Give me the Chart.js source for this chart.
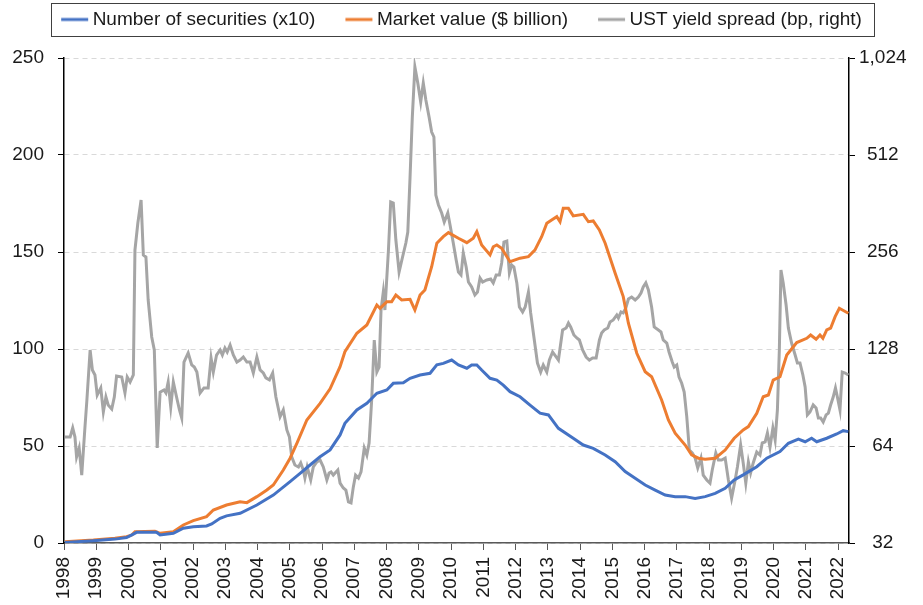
<!DOCTYPE html>
<html>
<head>
<meta charset="utf-8">
<script src="https://cdn.jsdelivr.net/npm/chart.js@4/dist/chart.umd.min.js"></script>
<style>
html,body{margin:0;padding:0;background:#ffffff;}
#wrap{width:923px;height:605px;position:relative;}
</style>
</head>
<body>
<div id="wrap"><canvas id="c" width="923" height="605"></canvas></div>
<script>
// ---------- DATA ----------
const seriesNames = ["Number of securities (x10)", "Market value ($ billion)", "UST yield spread (bp, right)"];
const seriesColors = ["#4472C4", "#ED7D31", "#A5A5A5"];
const yearTicks = [1998,1999,2000,2001,2002,2003,2004,2005,2006,2007,2008,2009,2010,2011,2012,2013,2014,2015,2016,2017,2018,2019,2020,2021,2022];
const leftTicks = [0,50,100,150,200,250];
const rightTicks = [32,64,128,256,512,1024];

const secDates = [1998.03,1998.91,1999.58,1999.94,2000.15,2000.25,2000.87,2000.98,2001.39,2001.70,2002.01,2002.42,2002.58,2002.84,2003.04,2003.46,2003.98,2004.49,2005.01,2005.32,2005.63,2005.94,2006.25,2006.56,2006.71,2007.08,2007.39,2007.70,2008.01,2008.21,2008.52,2008.73,2009.04,2009.35,2009.56,2009.76,2010.02,2010.23,2010.49,2010.64,2010.80,2010.95,2011.21,2011.42,2011.62,2011.83,2012.14,2012.45,2012.76,2013.02,2013.33,2013.79,2014.10,2014.41,2014.78,2015.09,2015.40,2015.71,2016.02,2016.33,2016.64,2016.95,2017.26,2017.57,2017.88,2018.19,2018.50,2018.78,2019.06,2019.48,2019.79,2020.20,2020.46,2020.77,2020.98,2021.18,2021.34,2021.65,2021.96,2022.16,2022.32];
const secValues = [0.3,1.2,2.0,2.8,4.6,5.5,5.5,4.1,5.0,7.6,8.4,8.8,9.8,12.7,14.0,15.3,19.6,24.7,31.6,35.9,40.2,44.5,48.0,55.7,61.7,68.6,72.0,77.2,78.9,82.3,82.6,84.9,86.6,87.5,91.8,92.6,94.3,91.8,90.1,91.8,91.8,89.2,84.9,84.0,81.4,78.0,75.4,71.1,66.9,66.0,59.1,54.0,50.5,48.8,45.4,41.9,36.8,33.4,29.9,27.3,24.7,23.9,23.9,23.0,23.9,25.6,28.2,32.5,35.1,39.3,43.7,47.1,51.4,53.5,52.2,54.0,52.2,54.0,56.2,57.9,57.4];

const mvDates = [1998.03,1998.91,1999.58,1999.94,2000.10,2000.20,2000.82,2000.98,2001.39,2001.70,2002.01,2002.42,2002.63,2003.04,2003.46,2003.67,2003.98,2004.29,2004.49,2004.80,2005.01,2005.22,2005.53,2005.94,2006.25,2006.56,2006.71,2007.08,2007.39,2007.70,2007.80,2008.01,2008.16,2008.29,2008.47,2008.73,2008.88,2009.04,2009.19,2009.40,2009.56,2009.76,2009.92,2010.23,2010.49,2010.69,2010.80,2010.95,2011.21,2011.31,2011.42,2011.57,2011.83,2012.14,2012.40,2012.60,2012.81,2012.97,2013.12,2013.28,2013.38,2013.48,2013.64,2013.79,2014.10,2014.26,2014.41,2014.60,2014.78,2015.09,2015.34,2015.50,2015.76,2016.02,2016.22,2016.53,2016.74,2016.95,2017.26,2017.46,2017.67,2017.88,2018.19,2018.50,2018.78,2019.06,2019.22,2019.48,2019.68,2019.84,2019.99,2020.20,2020.41,2020.72,2021.03,2021.15,2021.32,2021.44,2021.53,2021.65,2021.77,2021.91,2022.04,2022.32];
const mvValues = [0.7,1.5,2.4,3.2,4.1,5.8,6.0,5.0,5.8,9.3,11.5,13.6,17.0,19.6,21.3,20.8,23.9,27.3,29.9,37.6,43.7,51.4,63.4,72.0,79.5,90.9,98.6,108.1,112.4,122.7,121.0,124.4,124.4,127.8,125.3,125.6,120.1,127.8,130.4,142.4,154.5,157.9,160.0,157.1,154.8,157.1,160.5,153.6,148.5,152.7,153.6,151.9,145.0,146.8,147.6,151.0,157.9,164.8,166.5,168.2,165.6,172.5,172.5,168.6,169.4,165.6,166.0,161.4,154.5,139.0,127.0,113.3,97.8,88.3,85.7,73.7,63.4,56.6,50.5,45.4,43.7,43.2,43.7,47.9,54.0,58.3,60.0,66.9,75.4,76.3,84.0,85.7,96.9,103.3,105.5,107.2,105.0,107.2,105.5,109.8,110.7,116.7,121.0,118.4];

const spreadDates = [1998.03,1998.19,1998.27,1998.34,1998.39,1998.47,1998.55,1998.65,1998.71,1998.81,1998.88,1998.96,1999.03,1999.14,1999.22,1999.30,1999.37,1999.48,1999.56,1999.63,1999.79,1999.89,1999.96,2000.05,2000.15,2000.20,2000.29,2000.39,2000.46,2000.54,2000.61,2000.72,2000.80,2000.89,2000.98,2001.10,2001.16,2001.23,2001.31,2001.39,2001.49,2001.58,2001.65,2001.72,2001.85,2001.96,2002.04,2002.12,2002.22,2002.34,2002.47,2002.56,2002.63,2002.73,2002.84,2002.91,2002.99,2003.06,2003.15,2003.25,2003.36,2003.46,2003.56,2003.67,2003.77,2003.87,2003.98,2004.08,2004.18,2004.26,2004.37,2004.47,2004.57,2004.70,2004.80,2004.91,2004.99,2005.06,2005.16,2005.27,2005.34,2005.42,2005.47,2005.54,2005.65,2005.73,2005.84,2005.94,2006.04,2006.15,2006.22,2006.28,2006.35,2006.49,2006.56,2006.66,2006.74,2006.82,2006.90,2006.97,2007.04,2007.13,2007.21,2007.31,2007.39,2007.46,2007.54,2007.62,2007.70,2007.77,2007.83,2007.90,2007.95,2008.06,2008.13,2008.21,2008.29,2008.39,2008.49,2008.60,2008.66,2008.73,2008.80,2008.88,2008.97,2009.06,2009.14,2009.22,2009.32,2009.40,2009.47,2009.53,2009.61,2009.71,2009.79,2009.90,2009.97,2010.07,2010.16,2010.23,2010.31,2010.38,2010.47,2010.54,2010.64,2010.74,2010.82,2010.90,2010.98,2011.11,2011.23,2011.31,2011.40,2011.50,2011.57,2011.64,2011.73,2011.81,2011.88,2011.95,2012.04,2012.12,2012.22,2012.30,2012.40,2012.47,2012.57,2012.68,2012.78,2012.86,2012.97,2013.05,2013.15,2013.22,2013.33,2013.46,2013.57,2013.64,2013.71,2013.81,2013.90,2013.98,2014.08,2014.19,2014.29,2014.39,2014.50,2014.60,2014.67,2014.75,2014.86,2014.93,2015.03,2015.14,2015.19,2015.27,2015.34,2015.42,2015.50,2015.60,2015.71,2015.81,2015.89,2015.96,2016.04,2016.12,2016.22,2016.30,2016.43,2016.51,2016.58,2016.69,2016.76,2016.86,2016.92,2017.00,2017.07,2017.15,2017.23,2017.31,2017.39,2017.48,2017.57,2017.65,2017.75,2017.82,2017.93,2018.03,2018.10,2018.21,2018.29,2018.39,2018.50,2018.60,2018.70,2018.81,2018.88,2018.98,2019.06,2019.14,2019.22,2019.29,2019.37,2019.48,2019.58,2019.65,2019.74,2019.81,2019.89,2019.98,2020.05,2020.12,2020.18,2020.23,2020.30,2020.39,2020.46,2020.56,2020.67,2020.74,2020.82,2020.91,2020.98,2021.05,2021.13,2021.23,2021.32,2021.39,2021.46,2021.54,2021.63,2021.70,2021.77,2021.85,2021.92,2021.98,2022.06,2022.13,2022.22,2022.32];
const spreadValues = [68.2,68.2,72.8,68.2,59.2,63.1,52.0,73.3,88.9,127.1,110.2,106.3,92.1,96.9,81.6,90.8,85.8,83.4,90.8,105.5,104.8,93.5,104.8,101.1,106.3,259.7,314.9,371.3,250.6,247,181.7,139.5,127.1,63.1,94.1,95.5,93.5,101.1,84.6,101.1,90.8,82.8,78.2,116.6,124.4,114.2,112.5,108.6,93.5,96.9,96.9,120.0,108.6,122.6,127.1,122.6,128.9,125.3,131.7,122.6,116.6,118.3,120.9,116.6,116.6,107.8,120.9,110.2,107.8,104.1,102.6,107.8,90.8,78.8,82.8,71.8,68.2,59.2,55.9,55.1,56.7,53.9,50.9,55.1,50.2,55.1,57.1,57.9,55.1,50.2,52.8,53.2,52.0,53.9,49.1,47.4,46.7,42.9,42.6,47.7,52.0,50.9,53.2,63.1,60.0,65.4,88.9,136.5,108.6,112.5,169.1,192.3,169.1,259.7,366,363.4,278.9,221.9,245.3,273,295.4,437.6,671.7,960.4,856.4,747.8,856.4,758.5,671.7,603.4,582.3,384.6,358.2,338.3,317.2,338.3,310.5,273,241.8,221.9,217.2,254.2,230,206.6,199.4,188.3,192.3,212.6,206.6,209.6,211,205.2,217.2,217.2,236.7,275,277,220.4,233.3,230,205.2,172.8,166.7,172.8,192.3,165.6,139.5,115.8,108.6,114.2,108.6,118.3,125.3,122.6,118.3,146.6,148.7,154.1,149.8,141.5,138.5,136.5,127.1,120.9,118.3,120,120,136.5,143.5,146.6,148.7,155.3,157.5,163.2,159.7,166.7,165.6,171.6,183,185.6,181.7,185.6,191,199.4,205.2,195.1,172.8,149.8,146.6,144.6,136.5,133.6,125.3,116.6,112.5,114.2,104.8,100.4,94.1,78.8,62.2,60.9,58.7,54.7,58.7,52.0,50.2,49.1,53.9,60.9,57.9,57.9,58.7,50.2,44.1,50.2,55.1,64.5,56.7,49.1,57.1,52.8,56.7,61.3,60.0,65.4,65.9,70.2,63.5,72.8,66.8,82.8,127.1,225.1,205.2,175.3,148.7,133.6,122.6,115.8,115.8,106.3,97.6,79.9,81.6,85.8,84,78.2,78.2,76,79.9,81,85.8,90.8,96.9,90.8,82.8,108.6,107.8,106.3];

// ---------- BUILD ----------
function pairs(xs, ys){ const n = Math.min(xs.length, ys.length); const out = []; for (let i=0;i<n;i++) out.push({x: xs[i], y: ys[i]}); return out; }

const FONT = "'Liberation Sans', Arial, sans-serif";
const TXT = '#1a1a1a';
const MARK_W = 22;   // legend box width used by Chart.js

// legend marker: a short line that reaches close to the label text
function legendLine(color){
  const c = document.createElement('canvas');
  c.width = 52; c.height = 6;
  const g = c.getContext('2d');
  g.strokeStyle = color; g.lineWidth = 3;
  g.beginPath(); g.moveTo(15, 3); g.lineTo(42, 3); g.stroke();
  return c;
}

const legendSpacer = {
  id: 'legendSpacer',
  beforeInit(chart){
    const lg = chart.legend;
    if (!lg) return;
    const orig = lg.fit;
    lg.fit = function(){ orig.bind(lg)(); this.height += 19; };
  }
};

const legendBox = {
  id: 'legendBox',
  afterDraw(chart){
    const lg = chart.legend;
    if (!lg || !lg.legendHitBoxes || !lg.legendHitBoxes.length) return;
    const hb = lg.legendHitBoxes;
    const l = Math.min(...hb.map(h=>h.left)) - 10;
    const r = Math.max(...hb.map(h=>h.left + h.width)) + 12;
    const t = Math.min(...hb.map(h=>h.top)) - 7;
    const b = Math.max(...hb.map(h=>h.top + h.height)) + 7;
    const ctx = chart.ctx;
    ctx.save();
    ctx.strokeStyle = '#404040';
    ctx.lineWidth = 1;
    ctx.strokeRect(Math.round(l)+0.5, Math.round(t)+0.5, Math.round(r-l), Math.round(b-t));
    ctx.restore();
  }
};

const ctx = document.getElementById('c').getContext('2d');
new Chart(ctx, {
  type: 'line',
  data: {
    datasets: [
      { label: seriesNames[0], data: pairs(secDates, secValues), yAxisID: 'y', borderColor: seriesColors[0], backgroundColor: seriesColors[0], pointStyle: legendLine(seriesColors[0]), borderWidth: 3, pointRadius: 0, tension: 0, order: 1 },
      { label: seriesNames[1], data: pairs(mvDates, mvValues), yAxisID: 'y', borderColor: seriesColors[1], backgroundColor: seriesColors[1], pointStyle: legendLine(seriesColors[1]), borderWidth: 3, pointRadius: 0, tension: 0, order: 2 },
      { label: seriesNames[2], data: pairs(spreadDates, spreadValues), yAxisID: 'y2', borderColor: seriesColors[2], backgroundColor: seriesColors[2], pointStyle: legendLine(seriesColors[2]), borderWidth: 3, pointRadius: 0, tension: 0, order: 3 }
    ]
  },
  options: {
    responsive: false,
    animation: false,
    devicePixelRatio: 1,
    layout: { padding: { top: -20, left: 0, right: 0, bottom: 0 } },
    plugins: {
      legend: {
        display: true,
        position: 'top',
        labels: {
          usePointStyle: true,
          pointStyleWidth: MARK_W,
          padding: 30,
          color: TXT,
          font: { family: FONT, size: 19 }
        }
      },
      tooltip: { enabled: false }
    },
    scales: {
      x: {
        type: 'linear',
        min: yearTicks[0],
        max: 2022.34,
        afterFit(s){ s.height = 62; },
        afterBuildTicks(s){ s.ticks = yearTicks.map(v => ({value: v})); },
        ticks: { autoSkip: false, minRotation: 90, maxRotation: 90, includeBounds: false, padding: 7, color: TXT, font: { family: FONT, size: 19 }, callback: v => String(v) },
        grid: { drawOnChartArea: false, drawTicks: true, tickLength: 7, tickColor: '#595959', color: '#595959' },
        border: { display: true, color: '#595959', width: 1.5 }
      },
      y: {
        type: 'linear',
        position: 'left',
        min: 0, max: 250,
        afterFit(s){ s.width = 64; },
        afterBuildTicks(s){ s.ticks = leftTicks.map(v => ({value: v})); },
        ticks: { padding: 14, color: TXT, font: { family: FONT, size: 19 } },
        grid: { drawOnChartArea: true, drawTicks: true, tickLength: 6, color: '#D9D9D9', tickColor: '#000000', lineWidth: 1 },
        border: { display: true, color: '#000000', width: 1.5, dash: [5, 4] }
      },
      y2: {
        type: 'logarithmic',
        position: 'right',
        min: 32, max: 1024,
        afterFit(s){ s.width = 74; },
        afterBuildTicks(s){ s.ticks = rightTicks.map(v => ({value: v})); },
        ticks: { padding: 4, crossAlign: 'center', color: TXT, font: { family: FONT, size: 19 }, callback: v => Number(v).toLocaleString('en-US') },
        grid: { drawOnChartArea: false, drawTicks: true, tickLength: 6, tickColor: '#000000' },
        border: { display: true, color: '#000000', width: 1.5 }
      }
    }
  },
  plugins: [legendSpacer, legendBox]
});
</script>
</body>
</html>
